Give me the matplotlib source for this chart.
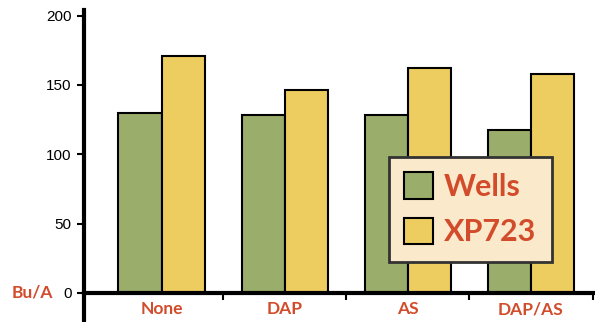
import matplotlib
matplotlib.use("Agg")
import matplotlib.pyplot as plt
from matplotlib.transforms import blended_transform_factory
import numpy as np

categories = ["None", "DAP", "AS", "DAP/AS"]
wells = [130, 128.5, 128.5, 117.5]
xp723 = [170.5, 146, 162.5, 158]
series_names = ["Wells", "XP723"]
y_ticks = [0, 50, 100, 150, 200]

green = "#9bad6a"
yellow = "#eecd60"
red = "#d24b2b"

fig = plt.figure(figsize=(5.95, 3.22), dpi=100)
ax = fig.add_axes([84 / 595, 2 / 322, 511 / 595, 310 / 322])

x = np.arange(len(categories))
w = 0.35
ax.bar(x - w / 2, wells, w, color=green, edgecolor="black", linewidth=1.5,
       label=series_names[0], zorder=2)
ax.bar(x + w / 2, xp723, w, color=yellow, edgecolor="black", linewidth=1.5,
       label=series_names[1], zorder=2)

ax.set_xlim(-0.63, 3.52)
ax.set_ylim(-19.5, 204)

# axes styling
for s in ["top", "right"]:
    ax.spines[s].set_visible(False)
ax.spines["bottom"].set_position(("data", 0))
ax.spines["bottom"].set_linewidth(3)
ax.spines["bottom"].set_zorder(3)
ax.spines["left"].set_linewidth(3)

ax.set_yticks(y_ticks)
ax.set_yticklabels([str(t) for t in y_ticks], fontsize=11, family="Liberation Sans")
ax.tick_params(axis="y", direction="out", length=5, width=1.5, pad=4)

ax.set_xticks(x)
ax.set_xticklabels(categories, fontsize=12.5, fontweight="bold", color=red,
                   family="Lato")
ax.set_xticks(np.arange(len(categories)) + 0.5, minor=True)
ax.tick_params(axis="x", which="major", length=0, pad=6)
ax.tick_params(axis="x", which="minor", direction="out", length=5, width=1.5)

# unit label next to the zero tick
trans = blended_transform_factory(fig.transFigure, ax.transData)
ax.text(53 / 595, 0, "Bu/A", transform=trans, ha="right", va="center",
        fontsize=12.5, fontweight="bold", color=red, family="Lato")

leg = ax.legend(loc="upper left", bbox_to_anchor=(389 / 595, 1 - 157 / 322),
                bbox_transform=fig.transFigure, borderaxespad=0,
                prop={"family": "Lato", "weight": "bold", "size": 22},
                labelcolor=red, fancybox=False, framealpha=1,
                facecolor="#faeacb", edgecolor="#333333",
                handlelength=0.95, handleheight=0.95, handletextpad=0.35,
                labelspacing=0.55, borderpad=0.5)
leg.get_frame().set_linewidth(2)

fig.savefig("out.png", dpi=100)
